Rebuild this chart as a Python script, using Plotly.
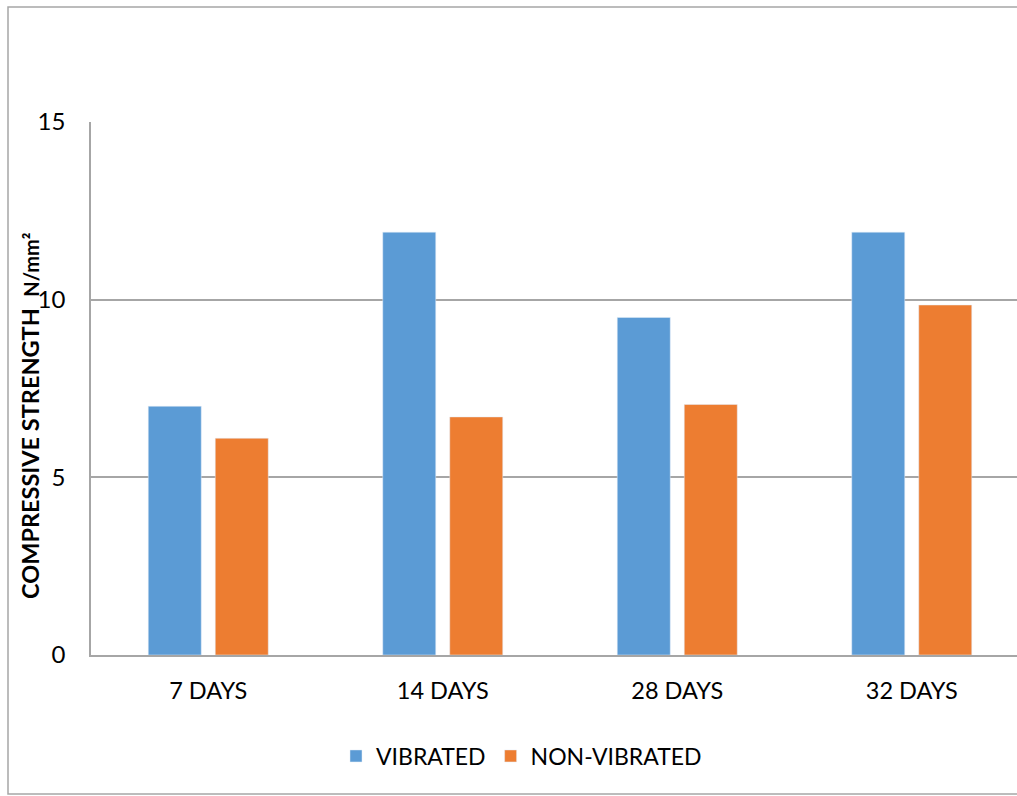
import plotly.graph_objects as go

# Compressive strength of concrete cubes by curing age
ages = ["7 DAYS", "14 DAYS", "28 DAYS", "32 DAYS"]
vibrated = [7.0, 11.9, 9.5, 11.9]
non_vibrated = [6.1, 6.7, 7.05, 9.85]
y_ticks = [0, 5, 10, 15]

FONT = "Lato, Carlito, sans-serif"

fig = go.Figure()
fig.add_trace(go.Bar(name="VIBRATED", x=ages, y=vibrated, marker_color="#5B9BD5"))
fig.add_trace(go.Bar(name="NON-VIBRATED", x=ages, y=non_vibrated, marker_color="#ED7D31"))

W, H = 1017, 796
L, R, T, B = 91, 0, 122, 141
pw, ph = W - L - R, H - T - B


def px_x(x):
    return (x - L) / pw


def px_y(y):
    return (H - B - y) / ph


fig.update_layout(
    width=W, height=H,
    margin=dict(l=L, r=R, t=T, b=B),
    paper_bgcolor="white", plot_bgcolor="white",
    font=dict(family=FONT, size=23, color="#000000"),
    barmode="group", bargap=0.4286, bargroupgap=0.209,
    showlegend=True,
    legend=dict(orientation="h", x=px_x(336), xanchor="left", y=px_y(756), yanchor="middle",
                font=dict(size=23), itemwidth=30, traceorder="normal"),
    xaxis=dict(range=[-0.5, -0.5 + pw / 234.5], showgrid=False, showline=True,
               linecolor="#A6A6A6", linewidth=1.5, ticks="", ticklabelstandoff=14,
               tickfont=dict(size=23.5), fixedrange=True),
    yaxis=dict(range=[0, 15], tickvals=y_ticks, showgrid=True, gridcolor="#A6A6A6",
               gridwidth=1.5, showline=True, linecolor="#A6A6A6", linewidth=1.5,
               zeroline=False, ticks="", ticklabelstandoff=19,
               tickfont=dict(size=24), fixedrange=True),
)

# axis title
fig.add_annotation(
    text="<b>COMPRESSIVE STRENGTH  <span style='font-size:20px'>N/mm²</span></b>",
    xref="paper", yref="paper", x=px_x(30), y=px_y(416), textangle=-90,
    showarrow=False, font=dict(family=FONT, size=23.5, color="#000000"),
    xanchor="center", yanchor="middle",
)

# outer chart frame
fig.add_shape(type="rect", xref="paper", yref="paper",
              x0=px_x(8), x1=px_x(1030), y0=px_y(794), y1=px_y(7),
              line=dict(color="#A6A6A6", width=1.5), layer="below")

fig.write_html("out.html")
